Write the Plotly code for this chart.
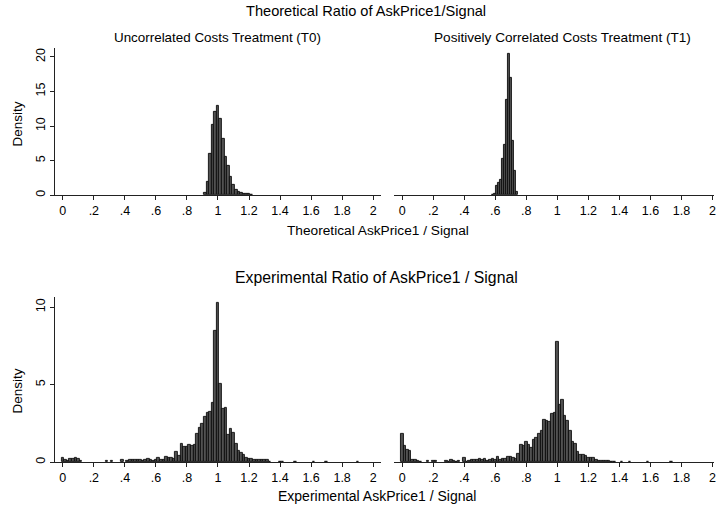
import plotly.graph_objects as go

# ---- data: histogram densities -------------------------------------------
# Wide bins (width 1/60) are centred at k/60; narrow bins (width 1/80) at k/80.
WIDE_BIN = 1 / 60
NARROW_BIN = 1 / 80

# Theoretical ratio, uncorrelated costs (T0): bins k = 55 .. 73
theo_t0_first_bin = 55
theo_t0_density = [0.3, 2.0, 6.0, 10.2, 12.0, 12.85, 11.0, 8.2, 5.5, 4.3,
                   2.7, 1.5, 0.8, 0.5, 0.3, 0.2, 0.15, 0.25, 0.1]

# Theoretical ratio, positively correlated costs (T1): narrow bins k = 47 .. 59
theo_t1_first_bin = 47
theo_t1_density = [0.1, 0.2, 1.4, 1.8, 2.2, 5.2, 7.3, 13.8, 20.5, 16.9,
                   7.8, 3.5, 0.5]

# Experimental ratio, T0: bins k = 0 .. 114
exp_t0_first_bin = 0
exp_t0_density = [
    0.3, 0.15, 0.1, 0.2, 0.2, 0.25, 0.2, 0.1, 0, 0,            # 0-9
    0, 0, 0, 0, 0, 0, 0, 0.1, 0, 0.1,                          # 10-19
    0, 0, 0, 0.15, 0, 0.08, 0.12, 0.15, 0.15, 0.15,            # 20-29
    0.12, 0.1, 0.12, 0.2, 0.12, 0.1, 0.15, 0.25, 0.15, 0.12,   # 30-39
    0.35, 0.28, 0.28, 0.2, 0.65, 0.4, 1.2, 1.0, 1.0, 1.1,      # 40-49
    1.05, 1.15, 1.86, 2.2, 2.45, 2.9, 3.2, 3.25, 3.85, 8.5,    # 50-59
    10.26, 5.06, 3.46, 3.5, 1.75, 2.15, 1.9, 1.2, 0.75, 0.6,   # 60-69
    0.45, 0.3, 0.2, 0.22, 0.15, 0.15, 0.15, 0.12, 0.12, 0.12,  # 70-79
    0.05, 0, 0, 0, 0.05, 0.05, 0, 0, 0, 0,                     # 80-89
    0.05, 0, 0, 0, 0, 0, 0, 0.05, 0, 0,                        # 90-99
    0, 0, 0.05, 0, 0, 0, 0, 0, 0, 0,                           # 100-109
    0, 0, 0, 0, 0.05,                                          # 110-114
]

# Experimental ratio, T1: bins k = 0 .. 104
exp_t1_first_bin = 0
exp_t1_density = [
    1.8, 1.05, 0.8, 0.75, 0.15, 0.12, 0.1, 0.05, 0, 0,         # 0-9
    0.1, 0, 0.1, 0.1, 0, 0, 0, 0.1, 0.05, 0.15,                # 10-19
    0.1, 0.05, 0.1, 0, 0.25, 0.05, 0.1, 0.12, 0.15, 0.15,      # 20-29
    0.2, 0.15, 0.2, 0.1, 0.15, 0.2, 0.15, 0.35, 0.15, 0.2,     # 30-39
    0.2, 0.35, 0.35, 0.3, 0.2, 0.55, 1.15, 1.05, 1.3, 1.1,     # 40-49
    0.9, 1.45, 1.6, 1.85, 2.0, 2.75, 2.65, 2.6, 3.1, 3.2,      # 50-59
    7.74, 3.7, 4.0, 3.0, 2.65, 2.0, 1.3, 1.2, 0.65, 0.5,       # 60-69
    0.45, 0.4, 0.3, 0.3, 0.25, 0.15, 0.1, 0.1, 0.1, 0.1,       # 70-79
    0.1, 0.05, 0.05, 0, 0, 0.05, 0, 0, 0.05, 0,                # 80-89
    0, 0, 0, 0, 0, 0.05, 0, 0, 0, 0,                           # 90-99
    0, 0, 0, 0, 0.05,                                          # 100-104
]

x_tick_vals = [0, 0.2, 0.4, 0.6, 0.8, 1.0, 1.2, 1.4, 1.6, 1.8, 2.0]
x_tick_text = ["0", ".2", ".4", ".6", ".8", "1", "1.2", "1.4", "1.6", "1.8", "2"]
top_y_ticks = [0, 5, 10, 15, 20]
bottom_y_ticks = [0, 5, 10]

# ---- page geometry (pixels) ------------------------------------------------
W, H = 716, 510
FONT = "Liberation Sans, Arial, Helvetica, sans-serif"
BAR_FILL = "#525252"
BAR_EDGE = "#0d0d0d"
AXIS_COLOR = "#222222"


def fx(px):
    return px / W


def fy(py):
    return 1 - py / H


def hist_trace(first_bin, density, width, xaxis, yaxis):
    xs, ys = [], []
    for i, d in enumerate(density):
        if d > 0:
            xs.append((first_bin + i) * width)
            ys.append(d)
    return go.Bar(
        x=xs, y=ys, width=width,
        marker=dict(color=BAR_FILL, line=dict(color=BAR_EDGE, width=0.9)),
        xaxis=xaxis, yaxis=yaxis, showlegend=False, hoverinfo="x+y",
    )


fig = go.Figure()
fig.add_trace(hist_trace(theo_t0_first_bin, theo_t0_density, WIDE_BIN, "x", "y"))
fig.add_trace(hist_trace(theo_t1_first_bin, theo_t1_density, NARROW_BIN, "x2", "y2"))
fig.add_trace(hist_trace(exp_t0_first_bin, exp_t0_density, WIDE_BIN, "x3", "y3"))
fig.add_trace(hist_trace(exp_t1_first_bin, exp_t1_density, WIDE_BIN, "x4", "y4"))

tick_font = dict(family=FONT, size=12.5, color="#000000")

xaxis_common = dict(
    tickvals=x_tick_vals, ticktext=x_tick_text, tickfont=tick_font,
    ticklabeloverflow="allow",
    showline=True, linecolor=AXIS_COLOR, linewidth=1,
    ticks="outside", ticklen=4, tickcolor=AXIS_COLOR, tickwidth=1,
    showgrid=False, zeroline=False, fixedrange=True,
)
yaxis_left = dict(
    tickfont=tick_font, tickangle=-90,
    showline=True, linecolor=AXIS_COLOR, linewidth=1,
    ticks="outside", ticklen=4, tickcolor=AXIS_COLOR, tickwidth=1,
    showgrid=False, zeroline=False, fixedrange=True,
)
yaxis_right = dict(
    showline=False, showticklabels=False, ticks="",
    showgrid=False, zeroline=False, fixedrange=True,
)

# left panels span 55..381.7 px, right panels 395..716 px; 0 sits 8 px in
left_dom = [fx(55), fx(381.7)]
right_dom = [fx(395), 1.0]
left_range = [-8 / 155.6, (381.7 - 63) / 155.6]
right_range = [-8.3 / 155.6, (716 - 403.3) / 155.6]
top_dom = [fy(196), fy(48)]
bottom_dom = [fy(464), fy(298)]

fig.update_layout(
    width=W, height=H, autosize=False,
    margin=dict(l=0, r=0, t=0, b=0),
    paper_bgcolor="white", plot_bgcolor="white",
    bargap=0,
    font=dict(family=FONT, color="#000000"),
    xaxis=dict(domain=left_dom, range=left_range, anchor="y", **xaxis_common),
    yaxis=dict(domain=top_dom, range=[0, 21.3], anchor="x",
               tickvals=top_y_ticks, **yaxis_left),
    xaxis2=dict(domain=right_dom, range=right_range, anchor="y2", **xaxis_common),
    yaxis2=dict(domain=top_dom, range=[0, 21.3], anchor="x2", **yaxis_right),
    xaxis3=dict(domain=left_dom, range=left_range, anchor="y3", **xaxis_common),
    yaxis3=dict(domain=bottom_dom, range=[0, 10.66], anchor="x3",
                tickvals=bottom_y_ticks, **yaxis_left),
    xaxis4=dict(domain=right_dom, range=right_range, anchor="y4", **xaxis_common),
    yaxis4=dict(domain=bottom_dom, range=[0, 10.66], anchor="x4", **yaxis_right),
)


def label(text, px, py, size, angle=0):
    fig.add_annotation(
        text=text, x=fx(px), y=fy(py), xref="paper", yref="paper",
        xanchor="center", yanchor="middle", showarrow=False, textangle=angle,
        font=dict(family=FONT, size=size, color="#000000"),
    )


label("Theoretical Ratio of AskPrice1/Signal", 367, 11, 14.6)
label("Uncorrelated Costs Treatment (T0)", 218.5, 38, 13.4)
label("Positively Correlated Costs Treatment (T1)", 564.5, 38, 13.6)
label("Theoretical AskPrice1 / Signal", 379, 231, 13.7)
label("Experimental Ratio of AskPrice1 / Signal", 377.5, 279, 15.8)
label("Experimental AskPrice1 / Signal", 378, 498, 14)
label("Density", 18, 124, 13.5, angle=-90)
label("Density", 18, 392, 13.5, angle=-90)

fig.write_html("out.html")
